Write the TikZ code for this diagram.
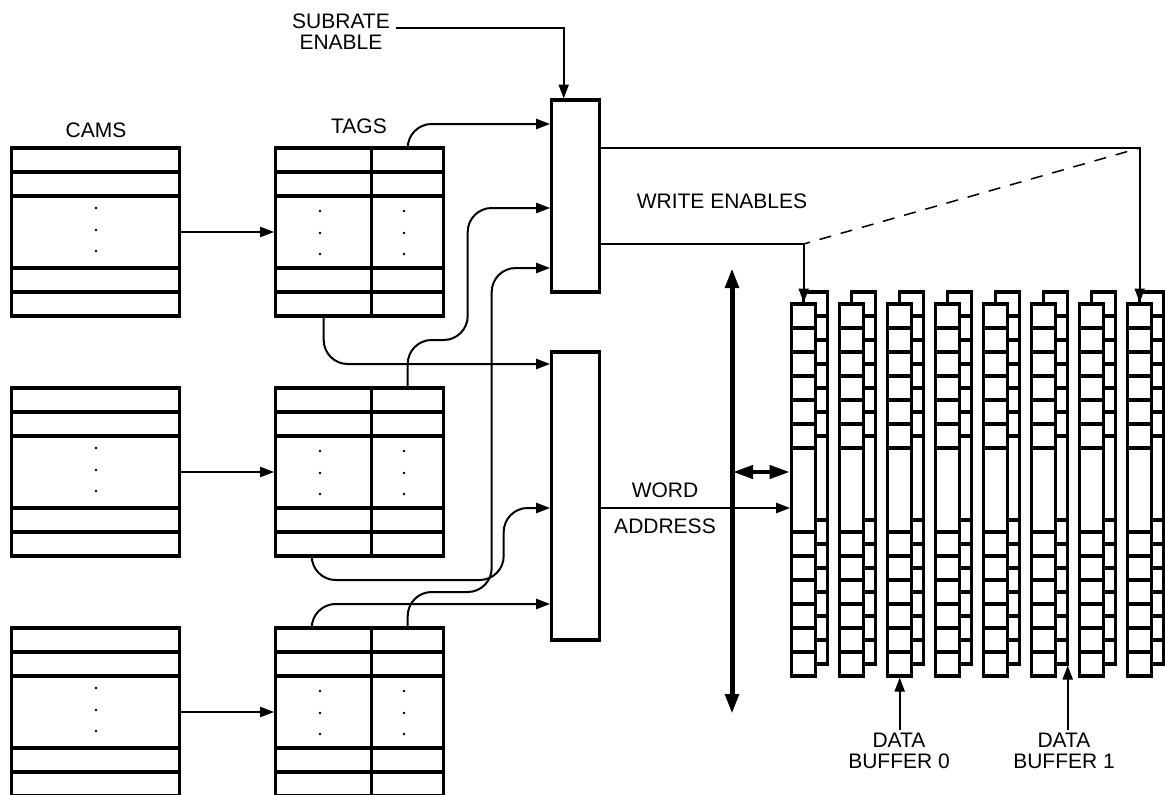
\documentclass[tikz,border=0pt]{standalone}
\usepackage{fontspec}
\setmainfont{Liberation Sans}
\usetikzlibrary{arrows.meta}
\tikzset{
  heavy/.style={line width=3.4pt},
  block/.style={draw, heavy, outer sep=0pt, inner sep=0pt, minimum width=168pt, minimum height=168pt},
  muxbox/.style={draw, heavy, outer sep=0pt, inner sep=0pt, minimum width=48pt},
  bufbox/.style={draw, heavy, outer sep=0pt, inner sep=0pt, minimum width=24pt, minimum height=372pt},
  wire/.style={line width=2pt, -{Stealth[length=14pt,width=10pt,inset=0pt]}, shorten >=1.5pt},
  bus/.style={line width=4pt, {Stealth[length=20pt,width=13pt,inset=0pt]}-{Stealth[length=20pt,width=13pt,inset=0pt]}},
  label/.style={inner sep=0pt, align=center, font=\fontsize{21}{21}\selectfont}
}
\begin{document}
\begin{tikzpicture}[x=1pt, y=-1pt]
    \useasboundingbox (0,0) rectangle (1165,795);
    \clip (0,0) rectangle (1165,794.1);

    % Cams and tags
    \foreach \name/\ypos in {A/232, B/472, C/712} {
        \node[block] (cam\name) at (95.7,\ypos) {};
        \node[block] (tag\name) at (359.7,\ypos) {};
        \foreach \dy in {-60,-36,36,60} {
            \draw[heavy] (11.7,\ypos+\dy) -- (179.7,\ypos+\dy);
            \draw[heavy] (275.7,\ypos+\dy) -- (443.7,\ypos+\dy);
        }
        \draw[heavy] (tag\name.north) ++(12,0) -- ++(0,168);
        \foreach \dy in {-24,-2,19}
            \fill (96,\ypos+\dy) circle [radius=1.4];
        \foreach \dy in {-21,1,22} {
            \fill (320,\ypos+\dy) circle [radius=1.4];
            \fill (404,\ypos+\dy) circle [radius=1.4];
        }
        \draw[wire] (cam\name.east) -- (tag\name.west);
    }

    % Selectors
    \node[muxbox, minimum height=192pt] (muxA) at (575.7,196) {};
    \node[muxbox, minimum height=288pt] (muxB) at (575.7,496) {};

    % Data buffers
    \foreach \i in {0,...,7} {
        \node[bufbox] (buf\i) at (803.7+48*\i,490) {};
        \draw[heavy] (buf\i.north) -- ++(0,-12) -- ++(24,0) -- ++(0,372) -- ++(-12,0);
        \foreach \y in {328,352,...,448, 532,556,...,652}
            \draw[heavy] (791.7+48*\i,\y) -- (815.7+48*\i,\y);
        \foreach \y in {316,340,...,436, 520,544,...,640}
            \draw[heavy] (815.7+48*\i,\y) -- (827.7+48*\i,\y);
    }

    % Labels
    \node[label] (camsLabel) at (96,130) {CAMS};
    \node[label] (tagsLabel) at (359,126) {TAGS};
    \node[label] (subrate) at (341,32) {SUBRATE\\ENABLE};
    \node[label] (writeLabel) at (722,201) {WRITE ENABLES};
    \node[label] (wordLabel) at (665,490) {WORD};
    \node[label] (addrLabel) at (665,526) {ADDRESS};
    \node[label] (dataZero) at (899,751) {DATA\\BUFFER 0};
    \node[label] (dataOne) at (1064,751) {DATA\\BUFFER 1};

    % Ports
    \coordinate (subrateOut) at (396,28);
    \coordinate (inA) at (551.7,124);
    \coordinate (inB) at (551.7,208);
    \coordinate (inC) at (551.7,268);
    \coordinate (inD) at (551.7,364);
    \coordinate (inE) at (551.7,508);
    \coordinate (inF) at (551.7,604);
    \coordinate (weTop) at (599.7,148);
    \coordinate (weLow) at (599.7,244);
    \coordinate (busTop) at (732,268);
    \coordinate (busBottom) at (732,714);
    \coordinate (busMid) at (733,472);
    \coordinate (rungEnd) at (1067.7,664);

    % Enable and tag lines
    \draw[wire] (subrateOut) -| ([xshift=-12pt]muxA.north);
    \begin{scope}[rounded corners=24pt]
        \draw[wire] ([xshift=48pt]tagA.north) -- ++(0,-24) -- (inA);
        \draw[wire] ([xshift=48pt]tagB.north) -- ++(0,-48) -- ++(60,0) -- ++(0,-132) -- (inB);
        \draw[wire] ([xshift=48pt]tagC.north) -- ++(0,-36) -- ++(84,0) -- ++(0,-324) -- (inC);
        \draw[wire] ([xshift=-36pt]tagA.south) -- ++(0,48) -- (inD);
        \draw[wire] ([xshift=-48pt]tagB.south) -- ++(0,24) -- ++(192,0) -- ++(0,-72) -- (inE);
        \draw[wire] ([xshift=-48pt]tagC.north) -- ++(0,-24) -- (inF);
    \end{scope}

    % Write enables
    \draw[wire] (weTop) -| (buf7.north);
    \draw[wire] (weLow) -| (buf0.north);
    \draw[line width=1.5pt, dash pattern=on 12pt off 10pt, dash phase=9pt] (buf7.north |- weTop) -- (buf0.north |- weLow);

    % Bus
    \draw[bus, line width=5pt] (busTop) -- (busBottom);
    \draw[bus] (busMid) -- ([xshift=-2pt]busMid -| buf0.west);
    \draw[wire] (inE -| muxB.east) -- (inE -| buf0.west);

    % Buffer pointers
    \draw[wire] (dataZero.north -| buf2.south) ++(0,-3) -- (buf2.south);
    \draw[wire] (dataOne.north -| rungEnd) ++(0,-3) -- (rungEnd);
\end{tikzpicture}
\end{document}
